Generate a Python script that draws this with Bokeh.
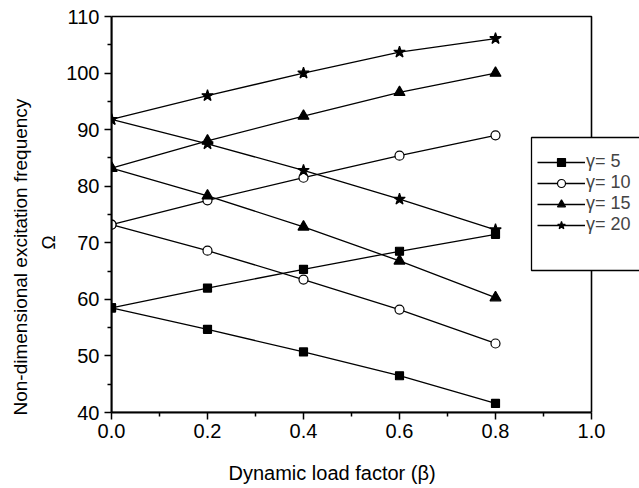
from bokeh.plotting import figure
from bokeh.models import Range1d, Legend, LegendItem, Title, FixedTicker, NumeralTickFormatter, BoxAnnotation
from bokeh.embed import file_html
from bokeh.resources import INLINE

# ---- data ----
beta = [0.0, 0.2, 0.4, 0.6, 0.8]
g5_upper = [58.5, 62.0, 65.3, 68.5, 71.5]
g5_lower = [58.5, 54.7, 50.7, 46.5, 41.6]
g10_upper = [73.2, 77.5, 81.5, 85.4, 89.0]
g10_lower = [73.2, 68.6, 63.5, 58.2, 52.2]
g15_upper = [83.2, 88.0, 92.4, 96.6, 100.0]
g15_lower = [83.2, 78.3, 72.8, 66.8, 60.3]
g20_upper = [91.8, 96.0, 100.0, 103.7, 106.1]
g20_lower = [91.8, 87.5, 82.8, 77.7, 72.3]
series_labels = ["\u03b3= 5", "\u03b3= 10", "\u03b3= 15", "\u03b3= 20"]
x_ticks = [0.0, 0.2, 0.4, 0.6, 0.8, 1.0]
x_minor = [0.1, 0.3, 0.5, 0.7, 0.9]
y_ticks = [40, 50, 60, 70, 80, 90, 100, 110]
y_minor = [45, 55, 65, 75, 85, 95, 105]
x_min, x_max = 0.0, 1.0
y_min, y_max = 40, 110

FONT = "Liberation Sans"

# frame geometry (px)
W, H = 639, 488
LEFT, TOP, BOTTOM = 111, 14, 76
AXIS_PX = 480          # px from x_min to x_max
Y_PX = 396             # px from y_min to y_max
frame_w = W - LEFT
frame_h = H - TOP - BOTTOM
x_end = x_min + (x_max - x_min) * frame_w / AXIS_PX
y_end = y_min + (y_max - y_min) * frame_h / Y_PX

p = figure(width=W, height=H, output_backend="svg", toolbar_location=None,
           x_range=Range1d(x_min, x_end), y_range=Range1d(y_min, y_end),
           min_border_left=LEFT, min_border_right=0, min_border_top=TOP, min_border_bottom=BOTTOM)
p.xgrid.visible = False
p.ygrid.visible = False
p.outline_line_color = None
p.background_fill_color = "white"

for ax in (p.xaxis[0], p.yaxis[0]):
    ax.axis_line_width = 2
    ax.axis_line_color = "black"
    ax.major_tick_line_color = "black"
    ax.minor_tick_line_color = "black"
    ax.major_tick_line_width = 1.5
    ax.minor_tick_line_width = 1.5
    ax.major_tick_in = 0
    ax.major_tick_out = 7
    ax.minor_tick_in = 0
    ax.minor_tick_out = 4
    ax.major_label_text_font = FONT
    ax.major_label_text_font_size = "20px"
    ax.major_label_text_color = "black"

p.xaxis[0].ticker = FixedTicker(ticks=x_ticks, minor_ticks=x_minor)
p.yaxis[0].ticker = FixedTicker(ticks=y_ticks, minor_ticks=y_minor)
p.xaxis[0].bounds = (x_min, x_max)
p.yaxis[0].bounds = (y_min, y_max)
p.xaxis[0].formatter = NumeralTickFormatter(format="0.0")
p.xaxis[0].major_label_standoff = 4
p.yaxis[0].major_label_standoff = 5

# plot box (top and right edges)
p.add_layout(BoxAnnotation(left=x_min, right=x_max, bottom=y_min, top=y_max,
                           fill_alpha=0, line_color="black", line_alpha=1.0, line_width=1.6))

specs = [
    (g5_upper, g5_lower, "square", 8, "black"),
    (g10_upper, g10_lower, "circle", 9, "white"),
    (g15_upper, g15_lower, "triangle", 11, "black"),
    (g20_upper, g20_lower, "star", 12, "black"),
]

items = []
for (up, lo, marker, size, fill), lab in zip(specs, series_labels):
    l1 = p.line(beta, up, line_color="black", line_width=1.3)
    p.line(beta, lo, line_color="black", line_width=1.3)
    s1 = p.scatter(beta, up, marker=marker, size=size, fill_color=fill, line_color="black", line_width=1.2)
    p.scatter(beta, lo, marker=marker, size=size, fill_color=fill, line_color="black", line_width=1.2)
    items.append(LegendItem(label=lab, renderers=[l1, s1]))

# legend box (screen px relative to the frame's bottom-left)
p.add_layout(BoxAnnotation(left=420, right=560, bottom=142, top=275,
                           left_units="screen", right_units="screen",
                           bottom_units="screen", top_units="screen",
                           fill_color="white", fill_alpha=1.0,
                           line_color="black", line_alpha=1.0, line_width=1.3))

legend = Legend(items=items, location=(426, 177), padding=8, spacing=0,
                label_height=20, glyph_height=20, glyph_width=48, label_standoff=1,
                label_text_font=FONT, label_text_font_size="18px",
                border_line_color=None, background_fill_alpha=0.0, margin=0)
p.add_layout(legend, "center")

# spacer then x label
p.add_layout(Title(text=" ", text_font_size="12px", standoff=0), "below")
p.add_layout(Title(text="Dynamic load factor (\u03b2)", align="left", offset=117,
                   text_font=FONT, text_font_size="20px", text_font_style="normal",
                   text_color="black", standoff=6), "below")
p.add_layout(Title(text="\u03a9", align="left", offset=163,
                   text_font=FONT, text_font_size="19px", text_font_style="normal",
                   text_color="black", standoff=9), "left")
p.add_layout(Title(text="Non-dimensional excitation frequency", align="left", offset=-3,
                   text_font=FONT, text_font_size="19px", text_font_style="normal",
                   text_color="black", standoff=2), "left")

open("out.html", "w").write(file_html(p, INLINE))
